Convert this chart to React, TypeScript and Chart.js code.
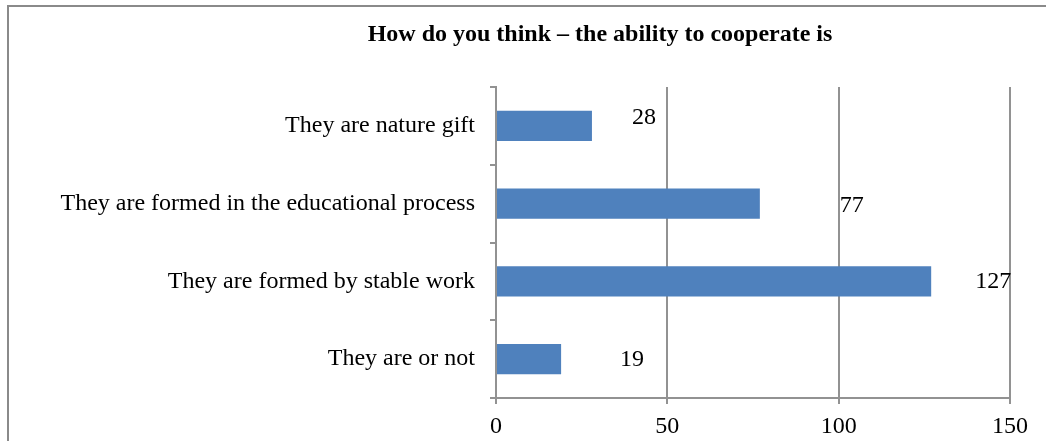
import React, { useEffect, useRef } from "react";
import { Chart, registerables } from "chart.js";

Chart.register(...registerables);

const categories = [
  "They are nature gift",
  "They are formed in the educational process",
  "They are formed by stable work",
  "They are or not",
];
const values = [28, 77, 127, 19];
const xTicks = [0, 50, 100, 150];
const titleText = "How do you think \u2013 the ability to cooperate is";
// label offsets [dx from bar end, dy from bar centre] in px
const labelOffsets = [
  [40, -8.5],
  [80, 2],
  [44, 0.5],
  [59, 1],
];

const FONT = "'Liberation Serif', 'Times New Roman', serif";
const GRID = "#929292";
const W = 1186;
const H = 440;

const borderPlugin = {
  id: "outerBorder",
  beforeDraw(chart: any) {
    const ctx = chart.ctx;
    ctx.save();
    ctx.fillStyle = "#ffffff";
    ctx.fillRect(0, 0, chart.width, chart.height);
    ctx.strokeStyle = "#8a8a8a";
    ctx.lineWidth = 2;
    ctx.strokeRect(1, 1, chart.width - 2, chart.height - 2);
    ctx.restore();
  },
};

const labelPlugin = {
  id: "valueLabels",
  afterDatasetsDraw(chart: any) {
    const ctx = chart.ctx;
    const meta = chart.getDatasetMeta(0);
    ctx.save();
    ctx.font = `24px ${FONT}`;
    ctx.fillStyle = "#000000";
    ctx.textAlign = "left";
    ctx.textBaseline = "middle";
    meta.data.forEach((el: any, i: number) => {
      const [dx, dy] = labelOffsets[i];
      ctx.fillText(String(values[i]), el.x + dx, el.y + dy);
    });
    ctx.restore();
  },
};

export default function App() {
  const ref = useRef<HTMLCanvasElement>(null);
  useEffect(() => {
    if (!ref.current) return;
    const chart = new Chart(ref.current, {
      type: "bar",
      data: {
        labels: categories,
        datasets: [
          {
            data: values,
            backgroundColor: "#4f81bd",
            borderWidth: 0,
            categoryPercentage: 1,
            barPercentage: 0.386,
          },
        ],
      },
      options: {
        indexAxis: "y",
        animation: false,
        responsive: false,
        layout: { padding: 0 },
        plugins: {
          legend: { display: false },
          tooltip: { enabled: false },
          title: {
            display: true,
            text: titleText,
            color: "#000000",
            font: { family: FONT, size: 24, weight: "bold" },
            padding: { top: 15.6, bottom: 37.6 },
          },
        },
        scales: {
          x: {
            type: "linear",
            position: "bottom",
            min: 0,
            max: 150,
            afterBuildTicks: (s: any) => {
              s.ticks = xTicks.map((v) => ({ value: v }));
            },
            afterFit: (s: any) => {
              s.height = 47;
            },
            ticks: {
              color: "#000000",
              font: { family: FONT, size: 24 },
              padding: 8,
            },
            grid: {
              color: GRID,
              lineWidth: 2,
              drawTicks: true,
              tickLength: 6,
            },
            border: { display: true, color: GRID, width: 2 },
          },
          y: {
            type: "category",
            position: "left",
            afterFit: (s: any) => {
              s.width = 489;
            },
            ticks: {
              color: "#000000",
              font: { family: FONT, size: 24 },
              padding: 15,
            },
            grid: {
              offset: true,
              drawOnChartArea: false,
              drawTicks: true,
              tickLength: 6,
              color: GRID,
              lineWidth: 2,
            },
            border: { display: true, color: GRID, width: 2 },
          },
          spacer: {
            type: "linear",
            position: "right",
            display: true,
            afterFit: (s: any) => {
              s.width = 183;
            },
            ticks: { display: false },
            grid: { display: false, drawTicks: false },
            border: { display: false },
          },
        },
      } as any,
      plugins: [borderPlugin, labelPlugin],
    });
    return () => chart.destroy();
  }, []);

  return (
    <div
      style={{
        position: "fixed",
        left: 0,
        top: 0,
        width: "100vw",
        height: "100vh",
        overflow: "hidden",
        background: "#ffffff",
      }}
    >
      <div style={{ position: "absolute", left: 7, top: 5, width: W, height: H }}>
        <canvas ref={ref} width={W} height={H} style={{ display: "block" }} />
      </div>
    </div>
  );
}
